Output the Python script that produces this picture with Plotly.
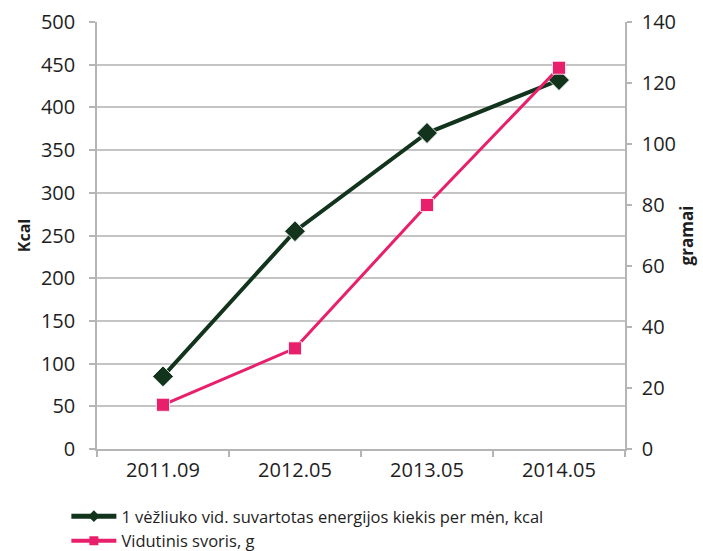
import plotly.graph_objects as go

# Survey periods
periods = ["2011.09", "2012.05", "2013.05", "2014.05"]

# Average monthly energy intake per crayfish, kcal (left axis)
energy_kcal = [85, 255, 370, 432]

# Average weight, g (right axis)
weight_g = [14.5, 33, 80, 125]

energy_name = "1 vėžliuko vid. suvartotas energijos kiekis per mėn, kcal"
weight_name = "Vidutinis svoris, g"

green = "#12331c"
pink = "#e8206c"
grid = "#c4c4c4"
axis_col = "#b5b5b5"
text_col = "#1e1e1e"
font_family = "Open Sans, Liberation Sans, sans-serif"

fig = go.Figure()

fig.add_trace(go.Scatter(
    x=periods, y=energy_kcal, name=energy_name, yaxis="y",
    mode="lines+markers", showlegend=False,
    line=dict(color=green, width=4),
    marker=dict(symbol="diamond", size=16, color=green,
                line=dict(color="white", width=0.8)),
))

fig.add_trace(go.Scatter(
    x=periods, y=weight_g, name=weight_name, yaxis="y2",
    mode="lines+markers", showlegend=False,
    line=dict(color=pink, width=3),
    marker=dict(symbol="square", size=13, color=pink,
                line=dict(color="white", width=0.8)),
))

# Legend entries with compact symbols
fig.add_trace(go.Scatter(
    x=[None], y=[None], name=energy_name, yaxis="y",
    mode="lines+markers",
    line=dict(color=green, width=5),
    marker=dict(symbol="diamond", size=9, color=green),
))
fig.add_trace(go.Scatter(
    x=[None], y=[None], name=weight_name, yaxis="y2",
    mode="lines+markers",
    line=dict(color=pink, width=4),
    marker=dict(symbol="square", size=9, color=pink),
))

fig.update_layout(
    width=703, height=551,
    margin=dict(l=97, r=78, t=22, b=102, autoexpand=False),
    paper_bgcolor="white",
    plot_bgcolor="white",
    font=dict(family=font_family, color=text_col, size=20),
    showlegend=True,
    legend=dict(
        x=-0.058, y=-0.117, xanchor="left", yanchor="top",
        orientation="v",
        font=dict(size=16.5, color=text_col),
        itemwidth=45, tracegroupgap=0,
        bgcolor="rgba(0,0,0,0)",
    ),
    xaxis=dict(
        type="category",
        tickson="boundaries",
        ticks="outside", ticklen=6, tickcolor=axis_col, tickwidth=1.5,
        showline=True, linecolor=axis_col, linewidth=1.5,
        showgrid=False,
        tickfont=dict(size=20, color=text_col),
        ticklabelstandoff=2,
        range=[-0.5, 3.5],
    ),
    yaxis=dict(
        range=[0, 500], dtick=50,
        ticks="outside", ticklen=6, tickcolor=axis_col, tickwidth=1.5,
        showline=True, linecolor=axis_col, linewidth=1.5,
        showgrid=True, gridcolor=grid, gridwidth=1.5,
        zeroline=False,
        tickfont=dict(size=20, color=text_col),
        ticklabelstandoff=10,
        title=dict(text="<b>Kcal</b>", font=dict(size=16, color=text_col), standoff=6),
    ),
    yaxis2=dict(
        range=[0, 140], dtick=20,
        overlaying="y", side="right",
        ticks="outside", ticklen=5, tickcolor=axis_col, tickwidth=1.5,
        showline=True, linecolor=axis_col, linewidth=1.5,
        showgrid=False, zeroline=False,
        tickfont=dict(size=20, color=text_col),
        ticklabelstandoff=6,
        title=dict(text="<b>gramai</b>", font=dict(size=17, color=text_col), standoff=6),
    ),
)

fig.write_html("out.html")
